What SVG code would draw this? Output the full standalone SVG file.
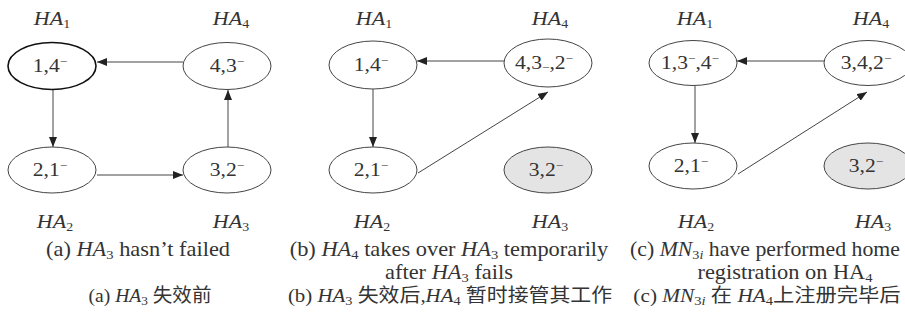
<svg xmlns="http://www.w3.org/2000/svg" width="905" height="323" viewBox="0 0 905 323">
<style>
.bg{fill:#fff}
.n{fill:#fff;stroke:#444;stroke-width:1}
.nb{fill:#fff;stroke:#111;stroke-width:1.6}
.ng{fill:#e4e4e4;stroke:#444;stroke-width:1}
.t{font-family:"Liberation Serif","Times New Roman",serif;fill:#333;font-size:18px}
.lb{font-family:"Liberation Serif","Times New Roman",serif;fill:#333;font-size:19px}
.cap{font-family:"Liberation Serif","Times New Roman","Noto Sans CJK SC",serif;fill:#333;font-size:20px}
.cn{font-family:"Liberation Serif","Times New Roman","Noto Sans CJK SC",serif;fill:#333;font-size:19px}
.i{font-style:italic}
.e{stroke:#444;stroke-width:1;fill:none;marker-end:url(#ah)}
</style>
<defs>
<marker id="ah" viewBox="0 0 10 8" refX="10" refY="4" markerWidth="10" markerHeight="8" markerUnits="userSpaceOnUse" orient="auto">
<path d="M0,0 L10,4 L0,8 Z" fill="#222"/>
</marker>
</defs>
<rect class="bg" x="0" y="0" width="905" height="323"/>

<g id="connectors">
<line class="e" x1="183" y1="62" x2="97" y2="62"/>
<line class="e" x1="53" y1="90" x2="53" y2="147"/>
<line class="e" x1="97" y1="175" x2="183" y2="175"/>
<line class="e" x1="228" y1="147" x2="228" y2="90"/>
<line class="e" x1="504" y1="61" x2="417" y2="61"/>
<line class="e" x1="373" y1="89" x2="373" y2="147"/>
<line class="e" x1="418" y1="173" x2="548" y2="92"/>
<line class="e" x1="824" y1="61" x2="737" y2="61"/>
<line class="e" x1="695" y1="86" x2="695" y2="143"/>
<line class="e" x1="738" y1="174" x2="867" y2="92"/>
</g>

<!-- Panel a -->
<g id="a-HA1">
<ellipse class="nb" cx="52" cy="66" rx="44" ry="23.5"/>
<text class="t" transform="translate(50,72) scale(1.2,1)" text-anchor="middle">1,4<tspan font-size="11" dy="-7">−</tspan></text>
<text class="lb" transform="translate(52,25) scale(1.16,1)" text-anchor="middle"><tspan class="i">HA</tspan><tspan font-size="12" dy="3">1</tspan></text>
</g>
<g id="a-HA4">
<ellipse class="n" cx="227" cy="66" rx="44" ry="23.5"/>
<text class="t" transform="translate(227,72) scale(1.2,1)" text-anchor="middle">4,3<tspan font-size="11" dy="-7">−</tspan></text>
<text class="lb" transform="translate(231,25) scale(1.16,1)" text-anchor="middle"><tspan class="i">HA</tspan><tspan font-size="12" dy="3">4</tspan></text>
</g>
<g id="a-HA2">
<ellipse class="n" cx="52" cy="170" rx="44" ry="23"/>
<text class="t" transform="translate(50,176) scale(1.2,1)" text-anchor="middle">2,1<tspan font-size="11" dy="-7">−</tspan></text>
<text class="lb" transform="translate(55,228) scale(1.16,1)" text-anchor="middle"><tspan class="i">HA</tspan><tspan font-size="12" dy="3">2</tspan></text>
</g>
<g id="a-HA3">
<ellipse class="n" cx="227" cy="170" rx="44" ry="23"/>
<text class="t" transform="translate(227,176) scale(1.2,1)" text-anchor="middle">3,2<tspan font-size="11" dy="-7">−</tspan></text>
<text class="lb" transform="translate(231,228) scale(1.16,1)" text-anchor="middle"><tspan class="i">HA</tspan><tspan font-size="12" dy="3">3</tspan></text>
</g>

<!-- Panel b -->
<g id="b-HA1">
<ellipse class="n" cx="373" cy="65" rx="44" ry="24"/>
<text class="t" transform="translate(371,71) scale(1.2,1)" text-anchor="middle">1,4<tspan font-size="11" dy="-7">−</tspan></text>
<text class="lb" transform="translate(374,25) scale(1.16,1)" text-anchor="middle"><tspan class="i">HA</tspan><tspan font-size="12" dy="3">1</tspan></text>
</g>
<g id="b-HA4">
<ellipse class="n" cx="548" cy="63" rx="44" ry="24"/>
<text class="t" transform="translate(544,69) scale(1.2,1)" text-anchor="middle">4,3<tspan font-size="11" dy="2">−</tspan><tspan dy="-2">,2</tspan><tspan font-size="11" dy="-7">−</tspan></text>
<text class="lb" transform="translate(550,25) scale(1.16,1)" text-anchor="middle"><tspan class="i">HA</tspan><tspan font-size="12" dy="3">4</tspan></text>
</g>
<g id="b-HA2">
<ellipse class="n" cx="373" cy="170" rx="44" ry="23"/>
<text class="t" transform="translate(371,176) scale(1.2,1)" text-anchor="middle">2,1<tspan font-size="11" dy="-7">−</tspan></text>
<text class="lb" transform="translate(372,228) scale(1.16,1)" text-anchor="middle"><tspan class="i">HA</tspan><tspan font-size="12" dy="3">2</tspan></text>
</g>
<g id="b-HA3">
<ellipse class="ng" cx="548" cy="170" rx="44" ry="23"/>
<text class="t" transform="translate(546,176) scale(1.2,1)" text-anchor="middle">3,2<tspan font-size="11" dy="-7">−</tspan></text>
<text class="lb" transform="translate(550,228) scale(1.16,1)" text-anchor="middle"><tspan class="i">HA</tspan><tspan font-size="12" dy="3">3</tspan></text>
</g>

<!-- Panel c -->
<g id="c-HA1">
<ellipse class="n" cx="693" cy="63" rx="44" ry="22.5"/>
<text class="t" transform="translate(690,69) scale(1.2,1)" text-anchor="middle">1,3<tspan font-size="11" dy="-7">−</tspan><tspan dy="7">,4</tspan><tspan font-size="11" dy="-7">−</tspan></text>
<text class="lb" transform="translate(695,25) scale(1.16,1)" text-anchor="middle"><tspan class="i">HA</tspan><tspan font-size="12" dy="3">1</tspan></text>
</g>
<g id="c-HA4">
<ellipse class="n" cx="868" cy="63" rx="44" ry="22.5"/>
<text class="t" transform="translate(866,69) scale(1.2,1)" text-anchor="middle">3,4,2<tspan font-size="11" dy="-7">−</tspan></text>
<text class="lb" transform="translate(871,25) scale(1.16,1)" text-anchor="middle"><tspan class="i">HA</tspan><tspan font-size="12" dy="3">4</tspan></text>
</g>
<g id="c-HA2">
<ellipse class="n" cx="693" cy="166" rx="44" ry="23"/>
<text class="t" transform="translate(691,172) scale(1.2,1)" text-anchor="middle">2,1<tspan font-size="11" dy="-7">−</tspan></text>
<text class="lb" transform="translate(696,228) scale(1.16,1)" text-anchor="middle"><tspan class="i">HA</tspan><tspan font-size="12" dy="3">2</tspan></text>
</g>
<g id="c-HA3">
<ellipse class="ng" cx="868" cy="166" rx="44" ry="23"/>
<text class="t" transform="translate(866,172) scale(1.2,1)" text-anchor="middle">3,2<tspan font-size="11" dy="-7">−</tspan></text>
<text class="lb" transform="translate(873,228) scale(1.16,1)" text-anchor="middle"><tspan class="i">HA</tspan><tspan font-size="12" dy="3">3</tspan></text>
</g>

<!-- Captions -->
<g id="captions">
<text class="cap" transform="translate(138,256) scale(1.12,1)" text-anchor="middle">(a) <tspan class="i">HA</tspan><tspan font-size="13" dy="3">3</tspan><tspan dy="-3"> hasn’t failed</tspan></text>
<text class="cap" transform="translate(449,256) scale(1.12,1)" text-anchor="middle">(b) <tspan class="i">HA</tspan><tspan font-size="13" dy="3">4</tspan><tspan dy="-3"> takes over </tspan><tspan class="i">HA</tspan><tspan font-size="13" dy="3">3</tspan><tspan dy="-3"> temporarily</tspan></text>
<text class="cap" transform="translate(449,279) scale(1.12,1)" text-anchor="middle">after <tspan class="i">HA</tspan><tspan font-size="13" dy="3">3</tspan><tspan dy="-3"> fails</tspan></text>
<text class="cap" transform="translate(765,256) scale(1.09,1)" text-anchor="middle">(c) <tspan class="i">MN</tspan><tspan font-size="13" dy="3">3<tspan class="i">i</tspan></tspan><tspan dy="-3"> have performed home</tspan></text>
<text class="cap" transform="translate(785,279) scale(1.12,1)" text-anchor="middle">registration on HA<tspan font-size="13" dy="3">4</tspan></text>
<text class="cn" transform="translate(150,302) scale(1.03,1)" text-anchor="middle">(a) <tspan class="i">HA</tspan><tspan font-size="13" dy="3">3</tspan><tspan dy="-3"> 失效前</tspan></text>
<text class="cn" transform="translate(450,302) scale(1.1,1)" text-anchor="middle">(b) <tspan class="i">HA</tspan><tspan font-size="13" dy="3">3</tspan><tspan dy="-3"> 失效后,</tspan><tspan class="i">HA</tspan><tspan font-size="13" dy="3">4</tspan><tspan dy="-3"> 暂时接管其工作</tspan></text>
<text class="cn" transform="translate(767,302) scale(1.12,1)" text-anchor="middle">(c) <tspan class="i">MN</tspan><tspan font-size="13" dy="3">3<tspan class="i">i</tspan></tspan><tspan dy="-3"> 在 </tspan><tspan class="i">HA</tspan><tspan font-size="13" dy="3">4</tspan><tspan dy="-3">上注册完毕后</tspan></text>
</g>
</svg>
